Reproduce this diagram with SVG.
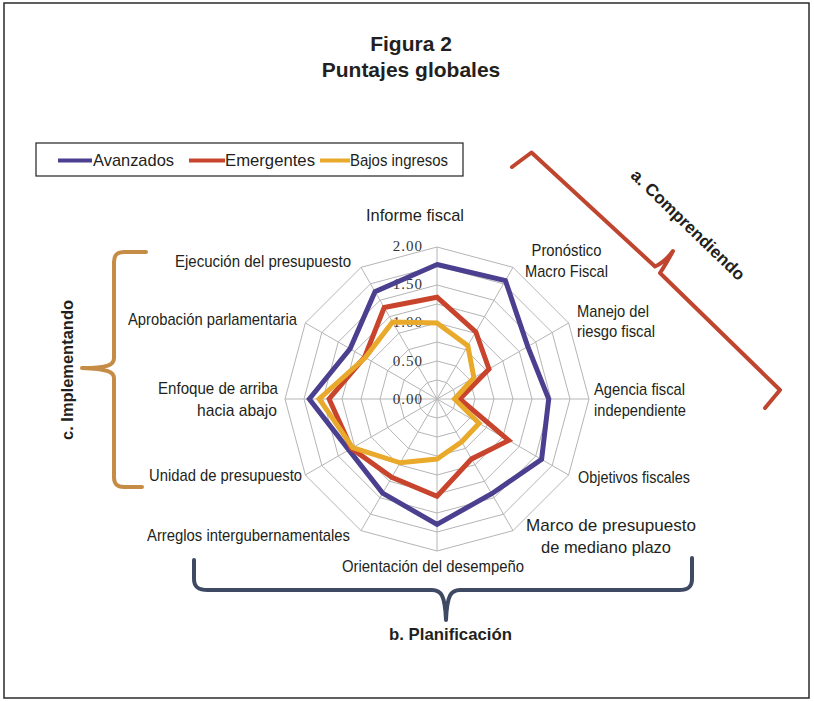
<svg xmlns="http://www.w3.org/2000/svg" width="814" height="701" viewBox="0 0 814 701">
<style>
.lbl{font-family:"Liberation Sans",Arial,sans-serif;font-size:17px;fill:#231f20}
.bold{font-family:"Liberation Sans",Arial,sans-serif;font-weight:bold;fill:#231f20}
.scale{font-family:"Liberation Serif","Times New Roman",serif;font-size:15px;fill:#333;letter-spacing:1px;text-anchor:end}
.ring{fill:none;stroke:#b5b5b5;stroke-width:1}
.series{fill:none;stroke-width:5;stroke-linejoin:miter;stroke-miterlimit:6}
.brace{fill:none;stroke-width:4;stroke-linecap:round;stroke-linejoin:round}
</style>
<rect x="4" y="3" width="805" height="695" fill="#ffffff" stroke="#2b2b2b" stroke-width="1.5"/>
<g id="title">
<text class="bold" x="411" y="51" font-size="21" text-anchor="middle">Figura 2</text>
<text class="bold" x="411" y="77" font-size="21" text-anchor="middle">Puntajes globales</text>
</g>
<g id="legend">
<rect x="36" y="143" width="427" height="33" fill="#ffffff" stroke="#222" stroke-width="1.2"/>
<line x1="58" y1="160.5" x2="92" y2="160.5" stroke="#4b3f8f" stroke-width="4"/>
<text class="lbl" x="93" y="166" font-size="18" textLength="81" lengthAdjust="spacingAndGlyphs">Avanzados</text>
<line x1="189" y1="160.5" x2="225" y2="160.5" stroke="#c9442c" stroke-width="4"/>
<text class="lbl" x="225" y="166" font-size="18" textLength="90" lengthAdjust="spacingAndGlyphs">Emergentes</text>
<line x1="320" y1="160.5" x2="350" y2="160.5" stroke="#e9a92a" stroke-width="4"/>
<text class="lbl" x="350" y="166" font-size="18" textLength="98" lengthAdjust="spacingAndGlyphs">Bajos ingresos</text>
</g>
<g id="grid">
<polygon class="ring" points="437,380 446.5,382.55 453.45,389.5 456,399 453.45,408.5 446.5,415.45 437,418 427.5,415.45 420.55,408.5 418,399 420.55,389.5 427.5,382.55"/>
<polygon class="ring" points="437,361 456,366.09 469.91,380 475,399 469.91,418 456,431.91 437,437 418,431.91 404.09,418 399,399 404.09,380 418,366.09"/>
<polygon class="ring" points="437,342 465.5,349.64 486.36,370.5 494,399 486.36,427.5 465.5,448.36 437,456 408.5,448.36 387.64,427.5 380,399 387.64,370.5 408.5,349.64"/>
<polygon class="ring" points="437,323 475,333.18 502.82,361 513,399 502.82,437 475,464.82 437,475 399,464.82 371.18,437 361,399 371.18,361 399,333.18"/>
<polygon class="ring" points="437,304 484.5,316.73 519.27,351.5 532,399 519.27,446.5 484.5,481.27 437,494 389.5,481.27 354.73,446.5 342,399 354.73,351.5 389.5,316.73"/>
<polygon class="ring" points="437,285 494,300.27 535.73,342 551,399 535.73,456 494,497.73 437,513 380,497.73 338.27,456 323,399 338.27,342 380,300.27"/>
<polygon class="ring" points="437,266 503.5,283.82 552.18,332.5 570,399 552.18,465.5 503.5,514.18 437,532 370.5,514.18 321.82,465.5 304,399 321.82,332.5 370.5,283.82"/>
<polygon class="ring" points="437,247 513,267.36 568.64,323 589,399 568.64,475 513,530.64 437,551 361,530.64 305.36,475 285,399 305.36,323 361,267.36"/>
<path class="ring" d="M437,399L437,247M437,399L513,267.36M437,399L568.64,323M437,399L589,399M437,399L568.64,475M437,399L513,530.64M437,399L437,551M437,399L361,530.64M437,399L305.36,475M437,399L285,399M437,399L305.36,323M437,399L361,267.36"/>
</g>
<g id="scale">
<text class="scale" x="423" y="251">2.00</text>
<text class="scale" x="423" y="289">1.50</text>
<text class="scale" x="423" y="327">1.00</text>
<text class="scale" x="423" y="366">0.50</text>
<text class="scale" x="423" y="404">0.00</text>
</g>
<g id="series-avanzados">
<polygon class="series" stroke="#4b3f8f" points="437,264.5 505.4,280.5 527.8,346.6 548.7,399 541.6,459.4 491.7,493.7 437,524.4 382.6,493.1 348.8,449.9 309.3,399 350.1,348.8 375,291.7"/>
</g>
<g id="series-emergentes">
<polygon class="series" stroke="#c9442c" points="437,297.2 475.8,331.9 489,369 459.8,399 508.7,440.4 471.6,458.9 437,496.3 391.8,477.3 351.4,448.4 329.1,399 364.6,357.2 384.2,307.5"/>
</g>
<g id="series-bajos">
<polygon class="series" stroke="#e9a92a" points="437,323 467.8,345.7 473.9,377.7 454.5,399 479.1,423.3 461.7,441.8 437,459 400.1,462.8 352.7,447.7 319.2,399 365.3,357.6 392.5,322"/>
</g>
<g id="axis-labels">
<text class="lbl" x="366" y="221" textLength="98" lengthAdjust="spacingAndGlyphs">Informe fiscal</text>
<text class="lbl" x="531.5" y="256" textLength="70" lengthAdjust="spacingAndGlyphs">Pronóstico</text>
<text class="lbl" x="525" y="277" textLength="83" lengthAdjust="spacingAndGlyphs">Macro Fiscal</text>
<text class="lbl" x="577" y="317" textLength="72" lengthAdjust="spacingAndGlyphs">Manejo del</text>
<text class="lbl" x="577" y="337" textLength="78" lengthAdjust="spacingAndGlyphs">riesgo fiscal</text>
<text class="lbl" x="594" y="395" textLength="91" lengthAdjust="spacingAndGlyphs">Agencia fiscal</text>
<text class="lbl" x="594" y="416" textLength="92" lengthAdjust="spacingAndGlyphs">independiente</text>
<text class="lbl" x="578" y="483" textLength="112" lengthAdjust="spacingAndGlyphs">Objetivos fiscales</text>
<text class="lbl" x="526" y="531" font-size="18" textLength="170" lengthAdjust="spacingAndGlyphs">Marco de presupuesto</text>
<text class="lbl" x="541" y="553" font-size="18" textLength="130" lengthAdjust="spacingAndGlyphs">de mediano plazo</text>
<text class="lbl" x="342" y="572" textLength="182" lengthAdjust="spacingAndGlyphs">Orientación del desempeño</text>
<text class="lbl" x="147" y="541" textLength="203" lengthAdjust="spacingAndGlyphs">Arreglos intergubernamentales</text>
<text class="lbl" x="149" y="481" textLength="153" lengthAdjust="spacingAndGlyphs">Unidad de presupuesto</text>
<text class="lbl" x="158" y="394" textLength="120" lengthAdjust="spacingAndGlyphs">Enfoque de arriba</text>
<text class="lbl" x="197" y="416" textLength="80" lengthAdjust="spacingAndGlyphs">hacia abajo</text>
<text class="lbl" x="128" y="325" textLength="169" lengthAdjust="spacingAndGlyphs">Aprobación parlamentaria</text>
<text class="lbl" x="175" y="267" textLength="176" lengthAdjust="spacingAndGlyphs">Ejecución del presupuesto</text>
</g>
<g id="group-comprendiendo">
<path class="brace" stroke="#c0452f" d="M512,167 L531.5,152.5 L655,266.5 Q665,262 673,251 Q666,264 660,273 L780,390 L765,408"/>
<text class="bold" transform="translate(684,229) rotate(44)" font-size="17" text-anchor="middle" textLength="151" lengthAdjust="spacingAndGlyphs">a. Comprendiendo</text>
</g>
<g id="group-planificacion">
<path class="brace" stroke="#3e4963" d="M194,560 L194,579 C194,587 198,590 208,590 L432,590 C441,590 445,595 446,620 C447,595 451,590 460,590 L679,590 C688,590 692,587 692,579 L692,558"/>
<text class="bold" x="450.5" y="640" font-size="17" text-anchor="middle" textLength="123" lengthAdjust="spacingAndGlyphs">b. Planificación</text>
</g>
<g id="group-implementando">
<path class="brace" stroke="#c58c45" d="M146,252 L124,252 C117,252 114,255 114,262 L114,358 C114,365 108,368 82,368 C108,369 114,372 114,378 L114,477 C114,484 117,487 124,487 L142,487"/>
<text class="bold" transform="translate(73,370) rotate(-90)" font-size="17" text-anchor="middle" textLength="140" lengthAdjust="spacingAndGlyphs">c. Implementando</text>
</g>
</svg>
